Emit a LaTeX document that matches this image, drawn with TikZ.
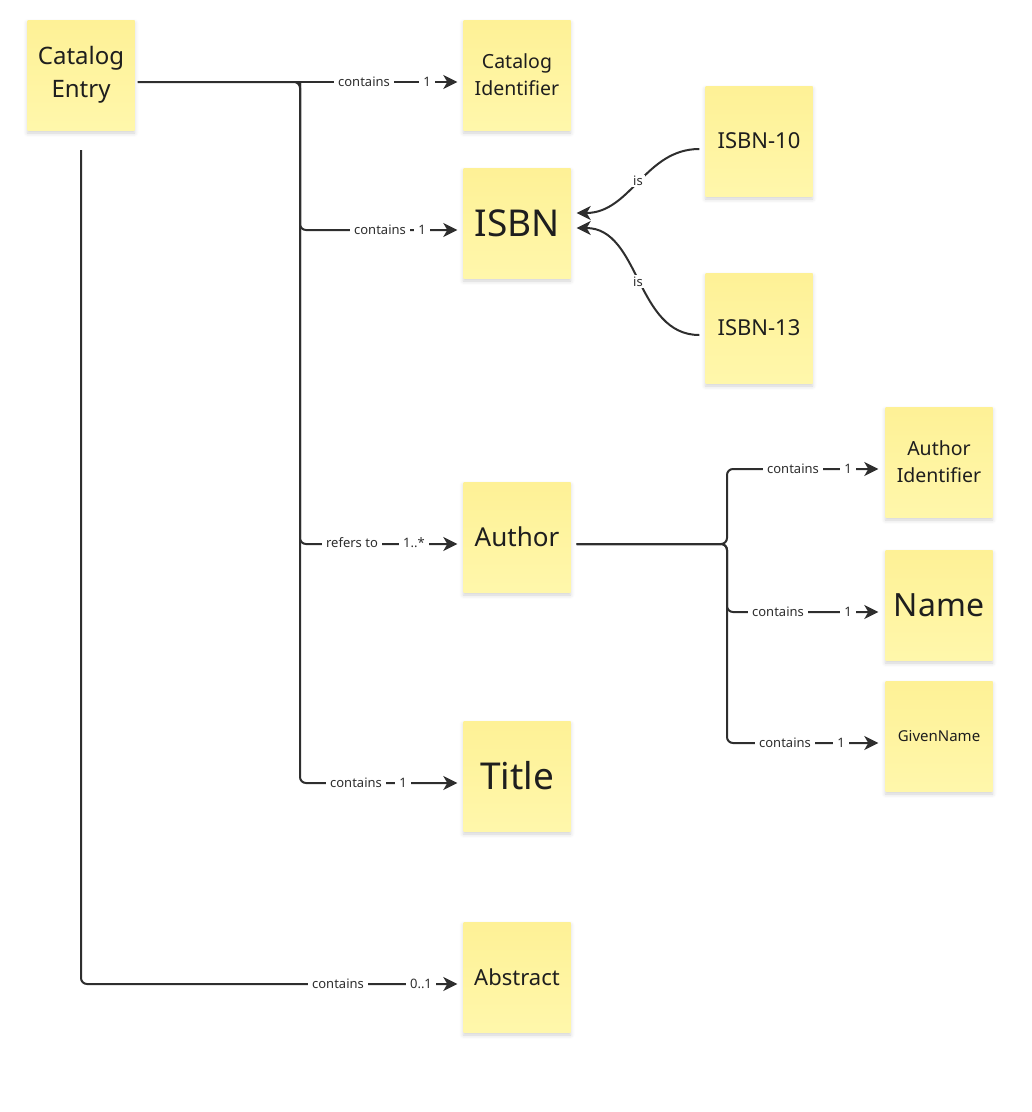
\documentclass[tikz,border=0pt]{standalone}
\usepackage{fontspec}
\setmainfont{Noto Sans}
\usetikzlibrary{arrows.meta,shadows.blur,calc}
\definecolor{stickytop}{HTML}{FEF196}
\definecolor{stickybot}{HTML}{FFF7AB}
\definecolor{linec}{HTML}{2E2E2E}
\definecolor{textc}{HTML}{1E1E1E}
\tikzset{
  sticky/.style={rectangle, minimum width=107pt, minimum height=110pt, inner sep=2pt,
    top color=stickytop, bottom color=stickybot, draw=none, align=center, text=textc,
    blur shadow={shadow xshift=0pt, shadow yshift=-3pt, shadow blur radius=4pt, shadow opacity=18}},
  conn/.style={draw=linec, line width=2pt, -{Stealth[length=14pt,width=14pt,inset=4pt]}},
  lbl/.style={fill=white, inner xsep=4pt, inner ysep=1.5pt, font=\fontsize{13}{15}\selectfont, text=linec},
}
\begin{document}
\begin{tikzpicture}[x=1pt,y=-1pt]
\useasboundingbox (0,0) rectangle (1032,1112);
% notes
\node[sticky, font=\fontsize{24}{33}\selectfont] (ce) at (81,75) {Catalog\\Entry};
\node[sticky, font=\fontsize{19.5}{27}\selectfont] (ci) at (517,75) {Catalog\\Identifier};
\node[sticky, font=\fontsize{37}{40}\selectfont] (isbn) at (517,223) {ISBN};
\node[sticky, font=\fontsize{22}{26}\selectfont] (i10) at (759,141) {ISBN-10};
\node[sticky, font=\fontsize{22}{26}\selectfont] (i13) at (759,328) {ISBN-13};
\node[sticky, font=\fontsize{26}{30}\selectfont] (author) at (517,537) {Author};
\node[sticky, font=\fontsize{37}{40}\selectfont] (title) at (517,776) {Title};
\node[sticky, font=\fontsize{22}{26}\selectfont] (abs) at (517,977) {Abstract};
\node[sticky, font=\fontsize{19.5}{27}\selectfont] (aid) at (939,462) {Author\\Identifier};
\node[sticky, font=\fontsize{32}{36}\selectfont] (name) at (939,605) {Name};
\node[sticky, font=\fontsize{15}{18}\selectfont] (gn) at (939,736) {GivenName};

% junction coordinates
\coordinate (trunk) at (300,82);
\coordinate (tt) at ([yshift=-7pt]title.west);
\coordinate (aa) at ([xshift=6pt,yshift=-7pt]author.east);
\coordinate (ajx) at (727,0);
\coordinate (aj) at (aa -| ajx);

% Catalog Entry -> Catalog Identifier
\draw[conn] ([xshift=3pt,yshift=-7pt]ce.east) -- ([xshift=-6pt,yshift=-7pt]ci.west);
% trunk branches
\draw[conn, rounded corners=6pt] ([xshift=3pt,yshift=-7pt]ce.east) -| (trunk |- tt) -- ([xshift=-6pt]tt);
\draw[conn, rounded corners=6pt] (trunk) |- ([xshift=-6pt,yshift=-7pt]isbn.west);
\draw[conn, rounded corners=6pt] (trunk) |- ([xshift=-6pt,yshift=-7pt]author.west);
% Catalog Entry -> Abstract
\draw[conn, rounded corners=6pt] ([yshift=-20pt]ce.south) |- ([xshift=-6pt,yshift=-7pt]abs.west);

% labels on trunk rows
\node[lbl] (l1a) at (364,82) {contains};
\node[lbl] (l1b) at (427,82) {1};
\node[lbl] (l2a) at (380,230) {contains};
\node[lbl] (l2b) at (422,230) {1};
\node[lbl] (l3a) at (352,543) {refers to};
\node[lbl] (l3b) at (414,543) {1..*};
\node[lbl] (l4a) at (356,783) {contains};
\node[lbl] (l4b) at (403,783) {1};
\node[lbl] (l5a) at (338,984) {contains};
\node[lbl] (l5b) at (421,984) {0..1};

% Author branches
\draw[conn, rounded corners=6pt] (aa) -- (aj) |- ([xshift=-7pt,yshift=-7pt]aid.west);
\draw[conn, rounded corners=6pt] (aa) -- (aj) |- ([xshift=-7pt,yshift=-7pt]name.west);
\draw[conn, rounded corners=6pt] (aa) -- (aj) |- ([xshift=-7pt,yshift=-7pt]gn.west);
\node[lbl] (l6a) at (793,469) {contains};
\node[lbl] (l6b) at (848,469) {1};
\node[lbl] (l7a) at (778,612) {contains};
\node[lbl] (l7b) at (848,612) {1};
\node[lbl] (l8a) at (785,743) {contains};
\node[lbl] (l8b) at (841,743) {1};

% ISBN-10 / ISBN-13 -> ISBN
\draw[conn] ([xshift=-6pt,yshift=-8pt]i10.west) to[out=180,in=0] node[lbl, inner xsep=2pt, pos=0.5] (is1) {is} ([xshift=6pt,yshift=10pt]isbn.east);
\draw[conn] ([xshift=-6pt,yshift=-7pt]i13.west) to[out=180,in=0] node[lbl, inner xsep=2pt, pos=0.5] (is2) {is} ([xshift=6pt,yshift=-5pt]isbn.east);
\end{tikzpicture}
\end{document}
